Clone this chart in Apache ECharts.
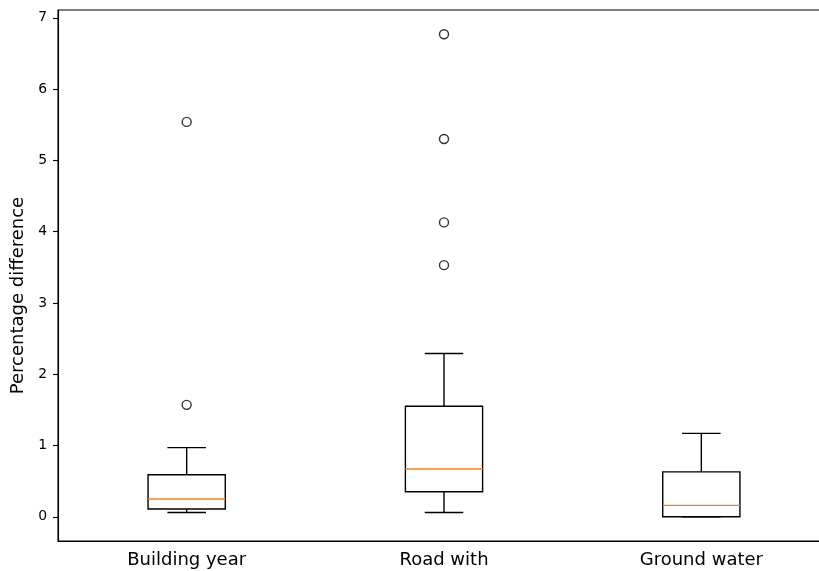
<!DOCTYPE html>
<html>
<head>
<meta charset="utf-8">
<script src="https://cdn.jsdelivr.net/npm/echarts@6/dist/echarts.min.js"></script>
<style>
html,body{margin:0;padding:0;background:#fff;overflow:hidden;}
#chart{width:830px;height:571px;}
</style>
</head>
<body>
<div id="chart"></div>
<script>
// ---- data ----
const categories = ['Building year', 'Road with', 'Ground water'];
const whiskerLow = [0.06, 0.06, 0.0];
const q1 = [0.11, 0.35, 0.0];
const median = [0.25, 0.67, 0.16];
const q3 = [0.59, 1.55, 0.63];
const whiskerHigh = [0.97, 2.29, 1.17];
const outliers = [
  [1.57, 5.54],
  [3.53, 4.13, 5.30, 6.77],
  []
];
const yAxisName = 'Percentage difference';

// ---- build series data ----
const boxData = categories.map((c, i) => [i, whiskerLow[i], q1[i], median[i], q3[i], whiskerHigh[i]]);
const outlierData = [];
outliers.forEach((arr, i) => arr.forEach(v => outlierData.push([i, v])));

const FONT = 'DejaVu Sans';
const chart = echarts.init(document.getElementById('chart'), null, {renderer: 'canvas'});

function renderBox(params, api) {
  const idx = api.value(0);
  const lo = api.coord([idx, api.value(1)]);
  const b1 = api.coord([idx, api.value(2)]);
  const md = api.coord([idx, api.value(3)]);
  const b3 = api.coord([idx, api.value(4)]);
  const hi = api.coord([idx, api.value(5)]);
  const band = api.size([1, 0])[0];
  const w = band * 0.3;
  const cw = w * 0.5;
  const x = lo[0];
  const stroke = {stroke: '#000', lineWidth: 1.4, fill: null};
  return {
    type: 'group',
    children: [
      {type: 'line', shape: {x1: x, y1: lo[1], x2: x, y2: b1[1]}, style: stroke},
      {type: 'line', shape: {x1: x, y1: b3[1], x2: x, y2: hi[1]}, style: stroke},
      {type: 'line', shape: {x1: x - cw / 2, y1: lo[1], x2: x + cw / 2, y2: lo[1]}, style: stroke},
      {type: 'line', shape: {x1: x - cw / 2, y1: hi[1], x2: x + cw / 2, y2: hi[1]}, style: stroke},
      {type: 'rect', shape: {x: x - w / 2, y: b3[1], width: w, height: b1[1] - b3[1]}, style: stroke},
      {type: 'line', shape: {x1: x - w / 2, y1: md[1], x2: x + w / 2, y2: md[1]}, style: {stroke: '#ff7f0e', lineWidth: 1.4}}
    ]
  };
}

const option = {
  backgroundColor: '#fff',
  animation: false,
  grid: {
    left: 58, right: 0, top: 10, bottom: 30,
    show: true, borderColor: '#000', borderWidth: 1.1, backgroundColor: 'transparent'
  },
  xAxis: {
    type: 'category',
    data: categories,
    boundaryGap: true,
    axisLine: {onZero: false, lineStyle: {color: '#000', width: 1.1}},
    axisTick: {alignWithLabel: true, length: 5, lineStyle: {color: '#000', width: 1.1}},
    axisLabel: {color: '#000', fontFamily: FONT, fontSize: 18, margin: 10},
    splitLine: {show: false}
  },
  yAxis: {
    type: 'value',
    min: -0.34,
    max: 7.11,
    splitNumber: 7,
    name: yAxisName,
    nameLocation: 'middle',
    nameGap: 24,
    nameTextStyle: {color: '#000', fontFamily: FONT, fontSize: 18, padding: [0, 40, 0, 0]},
    axisLine: {show: true, onZero: false, lineStyle: {color: '#000', width: 1.1}},
    axisTick: {show: true, length: 5, lineStyle: {color: '#000', width: 1.1}},
    axisLabel: {color: '#000', fontFamily: FONT, fontSize: 13.9, margin: 11, showMinLabel: false, showMaxLabel: false},
    splitLine: {show: false}
  },
  series: [
    {
      type: 'custom',
      renderItem: renderBox,
      data: boxData,
      encode: {x: 0, y: [1, 2, 3, 4, 5]},
      z: 2
    },
    {
      type: 'scatter',
      data: outlierData,
      symbol: 'circle',
      symbolSize: 9,
      itemStyle: {color: 'rgba(0,0,0,0)', borderColor: '#000', borderWidth: 1.4},
      z: 3
    }
  ]
};
chart.setOption(option);
</script>
</body>
</html>
